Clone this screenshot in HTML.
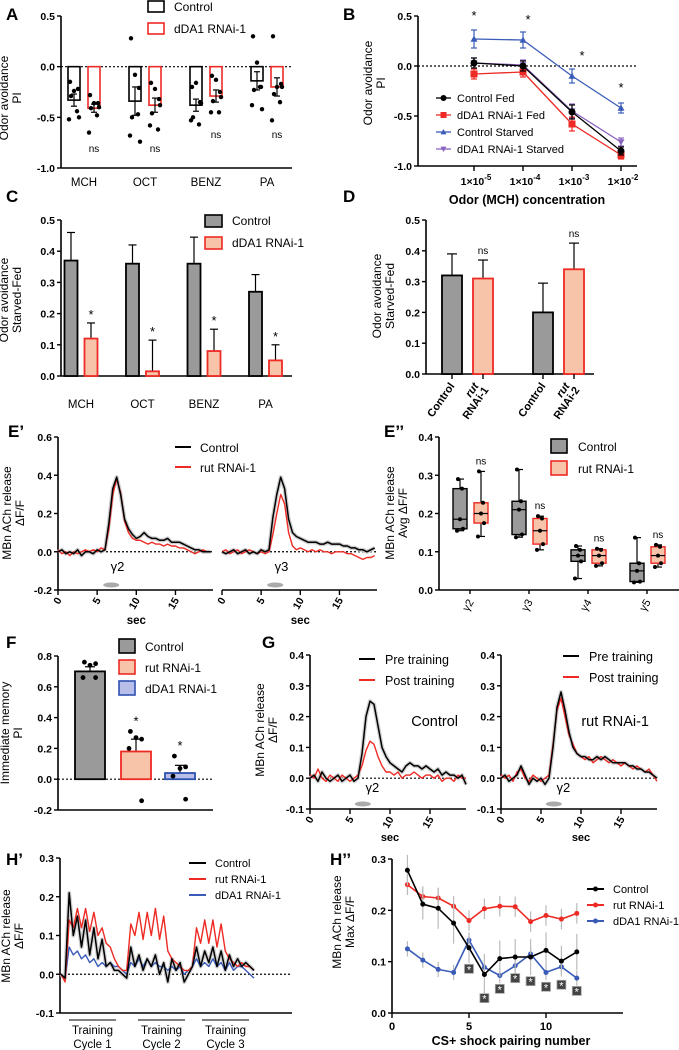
<!DOCTYPE html>
<html><head><meta charset="utf-8">
<style>
html,body{margin:0;padding:0;background:#fff;}
svg{display:block;font-family:"Liberation Sans",Arial,sans-serif;}
</style></head>
<body>
<svg id="fig" width="679" height="1050" viewBox="0 0 679 1050" xmlns="http://www.w3.org/2000/svg"></svg>
<script>
// ---------- DATA ----------
const catsA = ["MCH","OCT","BENZ","PA"];
const aCtrlMean = [-0.33,-0.34,-0.38,-0.14];
const aRnaiMean = [-0.41,-0.38,-0.29,-0.20];
const aCtrlErr = [0.06,0.14,0.06,0.09];
const aRnaiErr = [0.04,0.07,0.06,0.09];
const aCtrlDots = [[-0.15,-0.24,-0.22,-0.29,-0.44,-0.52,-0.50],[0.28,-0.08,-0.21,-0.50,-0.47,-0.68,-0.74],[-0.20,-0.16,-0.35,-0.50,-0.57,-0.53,-0.36],[0.30,0.04,-0.20,-0.23,-0.20,-0.38,-0.42]];
const aRnaiDots = [[-0.28,-0.36,-0.36,-0.41,-0.48,-0.65,-0.40],[-0.16,-0.22,-0.32,-0.46,-0.62,-0.58,-0.38],[-0.09,-0.13,-0.25,-0.34,-0.45,-0.45,-0.30],[0.30,-0.20,-0.17,-0.27,-0.35,-0.53,-0.20]];

const bConc = [-5,-4,-3,-2];
const bCtrlFed = [0.03,0.00,-0.46,-0.85];
const bRnaiFed = [-0.08,-0.06,-0.58,-0.89];
const bCtrlStarved = [0.27,0.26,-0.10,-0.42];
const bRnaiStarved = [0.03,0.01,-0.45,-0.76];
const bErr = [0.05,0.05,0.07,0.04];
const bStarvedErr = [0.09,0.08,0.07,0.05];

const cCtrl = [0.37,0.36,0.36,0.27];
const cCtrlErr = [0.09,0.06,0.085,0.055];
const cRnai = [0.12,0.015,0.08,0.05];
const cRnaiErr = [0.05,0.10,0.07,0.05];

const dLabels = ["Control","rut RNAi-1","Control","rut RNAi-2"];
const dVals = [0.32,0.31,0.20,0.34];
const dErr = [0.07,0.06,0.095,0.085];

const eTime = [0,0.5,1,1.5,2,2.5,3,3.5,4,4.5,5,5.5,6,6.5,7,7.5,8,8.5,9,9.5,10,10.5,11,11.5,12,12.5,13,13.5,14,14.5,15,15.5,16,16.5,17,17.5,18,18.5,19,19.5];
const eG2Ctrl = [0,0.01,-0.01,0,-0.01,0.01,-0.02,0,0,-0.01,0.01,0,0.01,0.15,0.33,0.39,0.30,0.17,0.12,0.09,0.07,0.08,0.10,0.08,0.07,0.07,0.06,0.06,0.07,0.05,0.05,0.05,0.04,0.03,0.02,0.01,0.01,0,0,0];
const eG2Rut = [0.01,-0.01,0,-0.02,0,-0.01,0,0.01,0,0.01,0,0.02,0.01,0.12,0.30,0.38,0.31,0.16,0.10,0.07,0.06,0.06,0.05,0.04,0.05,0.04,0.04,0.03,0.04,0.03,0.03,0.02,0.02,0.01,0,-0.01,0,0.01,0,0];
const eG3Ctrl = [0,-0.01,0,0.01,-0.01,0,0.01,-0.01,0,-0.01,0.01,0,0.01,0.18,0.30,0.39,0.33,0.17,0.10,0.08,0.07,0.06,0.05,0.05,0.05,0.04,0.04,0.05,0.04,0.04,0.04,0.03,0.03,0.02,0.02,0.01,0.01,0,0.01,0.02];
const eG3Rut = [0,0.01,-0.01,0,0.01,-0.01,0,0.01,0,-0.01,0,-0.01,0,0.09,0.20,0.30,0.25,0.10,0.03,0.01,0.02,0.01,0,0.01,0,0.01,0,0,-0.01,0,0,0,-0.01,-0.01,-0.02,-0.03,-0.04,-0.03,-0.03,-0.02];

const e2Cats = ["γ2","γ3","γ4","γ5"];
const e2Ctrl = [[0.155,0.16,0.185,0.265,0.29],[0.138,0.145,0.21,0.232,0.315],[0.03,0.075,0.09,0.105,0.115],[0.02,0.022,0.05,0.07,0.137]];
const e2Rut = [[0.14,0.175,0.20,0.228,0.31],[0.105,0.12,0.155,0.187,0.193],[0.063,0.07,0.09,0.105,0.108],[0.06,0.07,0.09,0.113,0.118]];

const fLabels = ["Control","rut RNAi-1","dDA1 RNAi-1"];
const fVals = [0.70,0.18,0.04];
const fErr = [0.03,0.08,0.05];
const fDots = [[0.76,0.75,0.74,0.66,0.66],[0.31,0.26,0.27,0.20,-0.14],[0.15,0.08,0.07,0.02,-0.13]];

const gCtrlPre = [0,0.01,-0.01,0.02,0,-0.01,0,0.01,-0.01,0,0.01,-0.01,0,0.08,0.20,0.25,0.24,0.17,0.10,0.07,0.05,0.04,0.03,0.02,0.04,0.05,0.04,0.04,0.03,0.04,0.03,0.02,0.03,0.01,0.02,0.01,0.01,0,0.01,-0.02];
const gCtrlPost = [0.01,0,0.03,0,-0.01,0.01,0,-0.01,0.01,0,-0.01,0,0.01,0.04,0.09,0.12,0.11,0.07,0.04,0.02,0.02,0.01,0.02,0,0.01,0.01,0.02,0.01,0,0.01,0.01,0,0.01,-0.01,0,0,-0.01,0.01,0,0];
const gRutPre = [0,0.01,-0.01,0,0.01,0.04,0.01,-0.02,0,-0.01,0,-0.02,0,0.10,0.23,0.28,0.22,0.15,0.10,0.08,0.07,0.07,0.06,0.06,0.07,0.06,0.07,0.06,0.05,0.05,0.05,0.05,0.04,0.04,0.03,0.03,0.02,0.02,0.01,0];
const gRutPost = [0.01,0,0.01,-0.01,0.02,0.03,0,-0.01,0.01,0,-0.01,0,0.01,0.11,0.22,0.26,0.20,0.14,0.11,0.08,0.07,0.06,0.07,0.05,0.06,0.07,0.06,0.05,0.06,0.05,0.04,0.05,0.04,0.03,0.04,0.03,0.02,0.03,0.01,-0.01];

const hCtrl = [0,-0.01,0.21,0.10,0.15,0.07,0.14,0.05,0.12,0.04,0.09,0.02,0.03,0.01,0.01,0.0,-0.01,0.07,0.02,0.05,0.01,0.04,0.02,0.05,0.0,0.03,-0.02,0.04,0.01,0.03,-0.02,0.0,0.02,0.07,0.02,0.06,0.03,0.07,0.02,0.06,0.01,0.05,0.02,0.04,0.02,0.03,0.02,0.01];
const hRut = [0,-0.02,0.14,0.12,0.17,0.12,0.17,0.11,0.16,0.10,0.12,0.08,0.07,0.04,0.02,0.01,0.01,0.13,0.10,0.16,0.09,0.16,0.10,0.17,0.09,0.15,0.06,0.04,0.03,0.02,0.01,0.01,0.02,0.12,0.08,0.14,0.08,0.14,0.07,0.13,0.06,0.04,0.03,0.02,0.03,0.02,0.02,0.01];
const hDda = [0,-0.01,0.07,0.05,0.06,0.04,0.05,0.03,0.04,0.02,0.03,0.02,0.03,0.02,0.02,0.01,0,0.03,0.02,0.04,0.02,0.04,0.02,0.03,0.02,0.02,0.01,0.02,0.01,0.02,0.0,0.01,0.02,0.04,0.02,0.03,0.02,0.04,0.02,0.03,0.01,0.03,0.01,0.02,0.02,0.01,0.0,-0.01];

const h2Pair = [1,2,3,4,5,6,7,8,9,10,11,12];
const h2Ctrl = [0.278,0.212,0.204,0.175,0.127,0.075,0.106,0.109,0.109,0.122,0.101,0.119];
const h2Rut = [0.25,0.227,0.224,0.208,0.18,0.203,0.208,0.207,0.178,0.19,0.183,0.194];
const h2Dda = [0.125,0.103,0.085,0.079,0.142,0.089,0.073,0.092,0.115,0.079,0.09,0.068];
const h2CtrlErr = [0.03,0.03,0.04,0.04,0.03,0.04,0.035,0.035,0.035,0.035,0.03,0.035];
const h2SigPair = [5,6,7,8,9,10,11,12];
const h2SigVal = [0.086,0.029,0.047,0.068,0.062,0.051,0.055,0.043];

// ---------- HELPERS ----------
const NS = "http://www.w3.org/2000/svg";
const S = document.getElementById('fig');
function mk(tag, name, attrs){
  const e = document.createElementNS(NS, tag);
  for (const k in attrs) e.setAttribute(k, attrs[k]);
  
  
  S.appendChild(e);
  return e;
}
function lin(d0,d1,r0,r1){return v => r0 + (v-d0)/(d1-d0)*(r1-r0);}
function line(name,x1,y1,x2,y2,stroke,w,dash){
  const a={x1:x1,y1:y1,x2:x2,y2:y2,stroke:stroke||'#000','stroke-width':w||1.5};
  if(dash) a['stroke-dasharray']=dash;
  return mk('line',name,a);
}
function txt(name,x,y,s,size,opt){
  opt=opt||{};
  const a={x:x,y:y,'font-size':size,'text-anchor':opt.anchor||'start','font-weight':opt.bold?'bold':'normal',fill:opt.fill||'#000'};
  if(opt.rot!==undefined) a.transform='rotate('+opt.rot+' '+x+' '+y+')';
  if(opt.italic) a['font-style']='italic';
  const e=mk('text',name,a); e.textContent=s; return e;
}
function yAxis(name,x,sy,ticks,fmt,top,bot){
  line(name+'-line',x,top,x,bot,'#000',1.6);
  ticks.forEach(t=>{
    line(name+'-tick',x-4,sy(t),x,sy(t),'#000',1.4);
    txt(name+'-label',x-6,sy(t)+4,fmt(t),10.5,{anchor:'end',bold:true});
  });
}
function ytitle(name,x,y,lines,size){
  lines.forEach((s,i)=>txt(name,x+i*13,y,s,size||12,{anchor:'middle',rot:-90}));
}
function path(name,pts,stroke,w,fill){
  const d=pts.map((p,i)=>(i?'L':'M')+p[0].toFixed(1)+' '+p[1].toFixed(1)).join(' ');
  return mk('path',name,{d:d,stroke:stroke,'stroke-width':w||1.5,fill:fill||'none','stroke-linejoin':'round'});
}
function errbar(name,x,y1,y2,cap,stroke,w){
  line(name,x,y1,x,y2,stroke||'#000',w||1.2);
  line(name+'-cap',x-cap,y2,x+cap,y2,stroke||'#000',w||1.2);
}
const fmt1 = v => v.toFixed(1);
const RED='#ee2a24', BLUE='#3a5cb8', PURPLE='#8b63c0', GRAY='#9a9a9a', SALMON='#f7c4aa', LBLUE='#b7bfe8';

// ---------- PANEL A ----------
txt('panel-a-label',6,20,'A',17,{bold:true});
const yA = lin(-1,0.5,168,16);
yAxis('a-y-axis',61,yA,[0.5,0,-0.5,-1],fmt1,16,168);
line('a-x-axis',61,168,292,168,'#000',1.6);
line('a-zero-line',61,yA(0),292,yA(0),'#000',1.2,'2,2');
ytitle('a-y-title',8,98,['Odor avoidance','PI']);
const jit=[-4,0,4,-3,3,-5,5];
catsA.forEach((c,i)=>{
  const xc=74+i*61, xr=xc+20;
  mk('rect','a-bar-control-'+c,{x:xc-6,y:yA(0),width:12,height:yA(aCtrlMean[i])-yA(0),fill:'#fff',stroke:'#000','stroke-width':1.6});
  mk('rect','a-bar-rnai-'+c,{x:xr-6,y:yA(0),width:12,height:yA(aRnaiMean[i])-yA(0),fill:'#fff',stroke:RED,'stroke-width':1.6});
  errbar('a-err-control',xc,yA(aCtrlMean[i]-aCtrlErr[i]),yA(aCtrlMean[i]+aCtrlErr[i]),3);
  line('a-err-control-cap2',xc-3,yA(aCtrlMean[i]-aCtrlErr[i]),xc+3,yA(aCtrlMean[i]-aCtrlErr[i]),'#000',1.2);
  errbar('a-err-rnai',xr,yA(aRnaiMean[i]-aRnaiErr[i]),yA(aRnaiMean[i]+aRnaiErr[i]),3);
  line('a-err-rnai-cap2',xr-3,yA(aRnaiMean[i]-aRnaiErr[i]),xr+3,yA(aRnaiMean[i]-aRnaiErr[i]),'#000',1.2);
  aCtrlDots[i].forEach((v,j)=>mk('circle','a-dot-control',{cx:xc+jit[j],cy:yA(v),r:2.2,fill:'#000'}));
  aRnaiDots[i].forEach((v,j)=>mk('circle','a-dot-rnai',{cx:xr+jit[j],cy:yA(v),r:2.2,fill:'#000'}));
  txt('a-ns-label',xr,i<2?152:138,'ns',10,{anchor:'middle'});
  txt('a-x-label',xc+10,186,c,11.5,{anchor:'middle'});
});
mk('rect','a-legend-control-swatch',{x:148,y:1,width:16,height:11,fill:'#fff',stroke:'#000','stroke-width':1.6});
txt('a-legend-control',174,11,'Control',12);
mk('rect','a-legend-rnai-swatch',{x:148,y:23,width:16,height:11,fill:'#fff',stroke:RED,'stroke-width':1.6});
txt('a-legend-rnai',174,33,'dDA1 RNAi-1',12);

// ---------- PANEL B ----------
txt('panel-b-label',343,20,'B',17,{bold:true});
const yB = lin(-1,0.5,166,16);
const xB = lin(-5,-2,474,621);
yAxis('b-y-axis',418,yB,[0.5,0,-0.5,-1],fmt1,16,166);
line('b-x-axis',418,166,637,166,'#000',1.6);
line('b-zero-line',418,yB(0),637,yB(0),'#000',1.2,'2,2');
ytitle('b-y-title',372,83,['Odor avoidance','PI']);
bConc.forEach(c=>{
  line('b-x-tick',xB(c),166,xB(c),171,'#000',1.4);
  const t=txt('b-x-tick-label',xB(c)+2,185,'1×10',10.5,{anchor:'middle',bold:true});
  const sp=document.createElementNS(NS,'tspan'); sp.setAttribute('dy','-5'); sp.setAttribute('font-size','8'); sp.textContent=String(c); t.appendChild(sp);
});
txt('b-x-title',527,204,'Odor (MCH) concentration',12.5,{anchor:'middle',bold:true});
function bSeries(name,vals,err,color,marker){
  path('b-line-'+name,vals.map((v,i)=>[xB(bConc[i]),yB(v)]),color,1.3);
  vals.forEach((v,i)=>{
    const x=xB(bConc[i]),y=yB(v);
    line('b-err-'+name,x,yB(v-err[i]),x,yB(v+err[i]),color,1.2);
    line('b-err-'+name+'-cap',x-3,yB(v+err[i]),x+3,yB(v+err[i]),color,1.2);
    line('b-err-'+name+'-cap2',x-3,yB(v-err[i]),x+3,yB(v-err[i]),color,1.2);
    bMarker('b-point-'+name,x,y,color,marker,3.5);
  });
}
function bMarker(name,x,y,color,m,r){
  if(m==='c') mk('circle',name,{cx:x,cy:y,r:r,fill:color});
  else if(m==='s') mk('rect',name,{x:x-r,y:y-r,width:2*r,height:2*r,fill:color});
  else if(m==='u') mk('polygon',name,{points:`${x},${y-r} ${x-r},${y+r*0.8} ${x+r},${y+r*0.8}`,fill:color});
  else mk('polygon',name,{points:`${x},${y+r} ${x-r},${y-r*0.8} ${x+r},${y-r*0.8}`,fill:color});
}
bSeries('rnai-starved',bRnaiStarved,bErr,PURPLE,'d');
bSeries('control-starved',bCtrlStarved,bStarvedErr,BLUE,'u');
bSeries('rnai-fed',bRnaiFed,bErr,RED,'s');
bSeries('control-fed',bCtrlFed,bErr,'#000','c');
[[474,20],[528,24],[582,60],[621,92]].forEach(p=>txt('b-star',p[0],p[1],'*',13,{anchor:'middle'}));
[['Control Fed','#000','c'],['dDA1 RNAi-1 Fed',RED,'s'],['Control Starved',BLUE,'u'],['dDA1 RNAi-1 Starved',PURPLE,'d']].forEach((l,i)=>{
  const y=98+i*17;
  line('b-legend-line',436,y,451,y,l[1],1.3);
  bMarker('b-legend-marker',443.5,y,l[1],l[2],3);
  txt('b-legend-text',457,y+4,l[0],11);
});

// ---------- PANEL C ----------
txt('panel-c-label',6,202,'C',17,{bold:true});
const yC = lin(0,0.5,376,220);
yAxis('c-y-axis',61,yC,[0,0.1,0.2,0.3,0.4,0.5],fmt1,220,376);
line('c-x-axis',61,376,292,376,'#000',1.6);
ytitle('c-y-title',8,300,['Odor avoidance','Starved-Fed']);
catsA.forEach((c,i)=>{
  const xc=71+i*61.5, xr=xc+20;
  errbar('c-err-control',xc,yC(cCtrl[i]),yC(cCtrl[i]+cCtrlErr[i]),4);
  mk('rect','c-bar-control-'+c,{x:xc-6.5,y:yC(cCtrl[i]),width:13,height:376-yC(cCtrl[i]),fill:GRAY,stroke:'#000','stroke-width':1.8});
  errbar('c-err-rnai',xr,yC(cRnai[i]),yC(cRnai[i]+cRnaiErr[i]),4);
  mk('rect','c-bar-rnai-'+c,{x:xr-6.5,y:yC(cRnai[i]),width:13,height:376-yC(cRnai[i]),fill:SALMON,stroke:RED,'stroke-width':1.8});
  txt('c-star',xr,yC(cRnai[i]+cRnaiErr[i])-4,'*',13,{anchor:'middle'});
  txt('c-x-label',xc+10,408,c,11.5,{anchor:'middle'});
});
mk('rect','c-legend-control-swatch',{x:205,y:215,width:17,height:12,fill:GRAY,stroke:'#000','stroke-width':1.6});
txt('c-legend-control',232,225,'Control',12);
mk('rect','c-legend-rnai-swatch',{x:205,y:237,width:17,height:12,fill:SALMON,stroke:RED,'stroke-width':1.6});
txt('c-legend-rnai',232,247,'dDA1 RNAi-1',12);

// ---------- PANEL D ----------
txt('panel-d-label',343,202,'D',17,{bold:true});
const yD = lin(0,0.5,374,220);
yAxis('d-y-axis',426,yD,[0,0.1,0.2,0.3,0.4,0.5],fmt1,220,374);
line('d-x-axis',426,374,594,374,'#000',1.6);
ytitle('d-y-title',381,296,['Odor avoidance','Starved-Fed']);
const dX=[452,483,543,574];
dVals.forEach((v,i)=>{
  const rn=i%2===1;
  errbar('d-err',dX[i],yD(v),yD(v+dErr[i]),5);
  mk('rect','d-bar-'+dLabels[i].replace(/ /g,'-').toLowerCase(),{x:dX[i]-10,y:yD(v),width:20,height:374-yD(v),fill:rn?SALMON:GRAY,stroke:rn?RED:'#000','stroke-width':1.8});
  line('d-x-tick',dX[i],374,dX[i],379,'#000',1.4);
  if(rn){
    txt('d-ns-label',dX[i],yD(v+dErr[i])-6,'ns',10,{anchor:'middle'});
    const p=dLabels[i].split(' ');
    txt('d-x-label',dX[i]-4,386,p[0],11,{anchor:'end',bold:true,italic:true,rot:-55});
    txt('d-x-label',dX[i]+6,390,p[1],11,{anchor:'end',bold:true,rot:-55});
  } else {
    txt('d-x-label',dX[i]+3,386,dLabels[i],11,{anchor:'end',bold:true,rot:-55});
  }
});

// ---------- PANEL E' ----------
txt('panel-e1-label',8,437,'E’',17,{bold:true});
const yE = lin(-0.2,0.6,590,437);
yAxis('e1-y-axis',58,yE,[0.6,0.4,0.2,0,-0.2],fmt1,437,590);
ytitle('e1-y-title',11,513,['MBn ACh release','ΔF/F']);
[[58,'γ2'],[222,'γ3']].forEach((sp,k)=>{
  const x0=sp[0], xs=lin(0,20,x0,x0+156.6);
  line('e1-x-axis',x0,590,x0+155,590,'#000',1.6);
  [0,5,10,15].forEach(t=>{
    line('e1-x-tick',xs(t),590,xs(t),595,'#000',1.4);
    txt('e1-x-tick-label',xs(t)+4,600,String(t),10.5,{anchor:'end',bold:true,rot:-60});
  });
  txt('e1-x-title',xs(10),624,'sec',11.5,{anchor:'middle',bold:true});
  line('e1-zero-line',x0,yE(0),x0+155,yE(0),'#000',1.2,'2,2');
  mk('ellipse','e1-odor-marker',{cx:xs(6.8),cy:585,rx:8,ry:2.5,fill:'#aaa'});
  txt('e1-compartment-label',xs(7.6),571,sp[1],13,{anchor:'middle'});
  const ctrl=k?eG3Ctrl:eG2Ctrl, rut=k?eG3Rut:eG2Rut;
  path('e1-trace-control-band',ctrl.map((v,i)=>[xs(eTime[i]),yE(v)]),'#ccc',4);
  path('e1-trace-rut',rut.map((v,i)=>[xs(eTime[i]),yE(v)]),RED,1.4);
  path('e1-trace-control',ctrl.map((v,i)=>[xs(eTime[i]),yE(v)]),'#000',1.5);
});
line('e1-legend-control-line',175,447,191,447,'#000',2);
txt('e1-legend-control',200,452,'Control',12);
line('e1-legend-rut-line',175,467,191,467,RED,2);
txt('e1-legend-rut',200,472,'rut RNAi-1',12);

// ---------- PANEL E'' ----------
txt('panel-e2-label',384,437,'E’’',17,{bold:true});
const yE2 = lin(0,0.4,590,437);
yAxis('e2-y-axis',439,yE2,[0,0.1,0.2,0.3,0.4],fmt1,437,590);
line('e2-x-axis',439,590,679,590,'#000',1.6);
ytitle('e2-y-title',394,513,['MBn ACh release','Avg  ΔF/F']);
function box(name,x,q,fill,stroke){
  line(name+'-whisker',x,yE2(q[0]),x,yE2(q[4]),'#000',1.2);
  line(name+'-cap-lo',x-4,yE2(q[0]),x+4,yE2(q[0]),'#000',1.2);
  line(name+'-cap-hi',x-4,yE2(q[4]),x+4,yE2(q[4]),'#000',1.2);
  mk('rect',name,{x:x-7,y:yE2(q[3]),width:14,height:yE2(q[1])-yE2(q[3]),fill:fill,stroke:stroke,'stroke-width':1.4});
  line(name+'-median',x-7,yE2(q[2]),x+7,yE2(q[2]),'#000',1.2);
  [q[0],q[1],q[2],q[3],q[4]].forEach((v,j)=>mk('circle',name+'-dot',{cx:x+[-3,3,0,2,-2][j],cy:yE2(v),r:2,fill:'#000'}));
}
e2Cats.forEach((c,i)=>{
  const xc=460+i*59, xr=xc+21;
  box('e2-box-control-'+i,xc,e2Ctrl[i],GRAY,'#000');
  box('e2-box-rut-'+i,xr,e2Rut[i],SALMON,RED);
  txt('e2-ns-label',xr,yE2(e2Rut[i][4])-7,'ns',10,{anchor:'middle'});
  line('e2-x-tick',xc+10,590,xc+10,594,'#000',1.4);
  txt('e2-x-label',xc+14,602,c,11,{anchor:'end',rot:-60});
});
mk('rect','e2-legend-control-swatch',{x:551,y:439,width:16,height:14,fill:GRAY,stroke:'#000','stroke-width':1.6});
txt('e2-legend-control',578,451,'Control',12);
mk('rect','e2-legend-rut-swatch',{x:551,y:461,width:16,height:14,fill:SALMON,stroke:RED,'stroke-width':1.6});
txt('e2-legend-rut',578,473,'rut RNAi-1',12);

// ---------- PANEL F ----------
txt('panel-f-label',6,648,'F',17,{bold:true});
const yF = lin(-0.2,0.8,810,656);
yAxis('f-y-axis',58,yF,[0.8,0.6,0.4,0.2,0,-0.2],fmt1,656,810);
line('f-x-axis',58,810,213,810,'#000',1.6);
line('f-zero-line',58,yF(0),213,yF(0),'#000',1.2,'2,2');
ytitle('f-y-title',9,733,['Immediate memory','PI']);
const fX=[90,136,180], fFill=[GRAY,SALMON,LBLUE], fStroke=['#000',RED,'#2f4fb0'];
fVals.forEach((v,i)=>{
  errbar('f-err',fX[i],yF(v),yF(v+fErr[i]),5);
  mk('rect','f-bar-'+fLabels[i].replace(/ /g,'-').toLowerCase(),{x:fX[i]-15,y:yF(v),width:30,height:yF(0)-yF(v),fill:fFill[i],stroke:fStroke[i],'stroke-width':1.8});
  fDots[i].forEach((d,j)=>mk('circle','f-dot',{cx:fX[i]+[-4,4,0,-5,4][j]*1.4,cy:yF(d),r:2.4,fill:'#000'}));
  if(i>0) txt('f-star',fX[i],yF(Math.max(...fDots[i]))-6,'*',13,{anchor:'middle'});
});
fLabels.forEach((l,i)=>{
  mk('rect','f-legend-swatch',{x:119,y:639+i*21,width:16,height:14,fill:fFill[i],stroke:fStroke[i],'stroke-width':1.6});
  txt('f-legend-text',145,651+i*21,l,12);
});

// ---------- PANEL G ----------
txt('panel-g-label',262,648,'G',17,{bold:true});
const yG = lin(-0.1,0.4,809,655);
ytitle('g-y-title',264,730,['MBn ACh release','ΔF/F']);
[[310,gCtrlPre,gCtrlPost,'Control',359],[501,gRutPre,gRutPost,'rut RNAi-1',563]].forEach((sp,k)=>{
  const x0=sp[0], xs=lin(0,20,x0,x0+160);
  yAxis('g-y-axis-'+k,x0,yG,[0.4,0.3,0.2,0.1,0,-0.1],fmt1,655,809);
  line('g-x-axis',x0,809,x0+156,809,'#000',1.6);
  [0,5,10,15].forEach(t=>{
    line('g-x-tick',xs(t),809,xs(t),814,'#000',1.4);
    txt('g-x-tick-label',xs(t)+4,819,String(t),10.5,{anchor:'end',bold:true,rot:-60});
  });
  txt('g-x-title',xs(10),841,'sec',11,{anchor:'middle',bold:true});
  line('g-zero-line',x0,yG(0),x0+156,yG(0),'#000',1.2,'2,2');
  mk('ellipse','g-odor-marker',{cx:xs(6.6),cy:804,rx:8,ry:2.5,fill:'#aaa'});
  txt('g-compartment-label',xs(7.8),792,'γ2',13,{anchor:'middle'});
  path('g-trace-pre-band',sp[1].map((v,i)=>[xs(eTime[i]),yG(v)]),'#d0d0d0',4);
  path('g-trace-post',sp[2].map((v,i)=>[xs(eTime[i]),yG(v)]),RED,1.4);
  path('g-trace-pre',sp[1].map((v,i)=>[xs(eTime[i]),yG(v)]),'#000',1.5);
  txt('g-genotype-label',x0+(k?148:148),726,sp[3],14.5,{anchor:'end'});
  const lx=sp[4], ly=k?656:659;
  line('g-legend-pre-line',lx,ly,lx+16,ly,'#000',2);
  txt('g-legend-pre',lx+26,ly+5,'Pre training',12.5);
  line('g-legend-post-line',lx,ly+21,lx+16,ly+21,RED,2);
  txt('g-legend-post',lx+26,ly+26,'Post training',12.5);
});

// ---------- PANEL H' ----------
txt('panel-h1-label',6,865,'H’',17,{bold:true});
const yH = lin(-0.1,0.3,1013,858);
const xH = lin(0,47,61,254);
yAxis('h1-y-axis',60,yH,[0.3,0.2,0.1,0,-0.1],fmt1,858,1013);
line('h1-x-axis',60,1013,292,1013,'#000',1.6);
line('h1-zero-line',60,yH(0),292,yH(0),'#000',1.2,'2,2');
ytitle('h1-y-title',10,936,['MBn ACh release','ΔF/F']);
path('h1-trace-control-band',hCtrl.map((v,i)=>[xH(i),yH(v)]),'#d0d0d0',4);
path('h1-trace-dda1',hDda.map((v,i)=>[xH(i),yH(v)]),BLUE,1.4);
path('h1-trace-rut',hRut.map((v,i)=>[xH(i),yH(v)]),RED,1.4);
path('h1-trace-control',hCtrl.map((v,i)=>[xH(i),yH(v)]),'#000',1.5);
[[69,116,'1'],[138,185,'2'],[202,249,'3']].forEach(c=>{
  line('h1-training-bar',c[0],1020,c[1],1020,'#000',1);
  txt('h1-training-label',(c[0]+c[1])/2,1034,'Training',11.5,{anchor:'middle'});
  txt('h1-cycle-label',(c[0]+c[1])/2,1048,'Cycle '+c[2],11.5,{anchor:'middle'});
});
[['Control','#000'],['rut RNAi-1',RED],['dDA1 RNAi-1',BLUE]].forEach((l,i)=>{
  line('h1-legend-line',189,863+i*16,206,863+i*16,l[1],2);
  txt('h1-legend-text',215,867+i*16,l[0],11);
});

// ---------- PANEL H'' ----------
txt('panel-h2-label',330,865,'H’’',17,{bold:true});
const yH2 = lin(0,0.3,1013,859);
const xH2 = lin(0,15,392,623);
yAxis('h2-y-axis',392,yH2,[0,0.1,0.2,0.3],fmt1,859,1013);
line('h2-x-axis',392,1013,623,1013,'#000',1.6);
[0,5,10].forEach(t=>{
  line('h2-x-tick',xH2(t),1013,xH2(t),1018,'#000',1.4);
  txt('h2-x-tick-label',xH2(t),1030,String(t),11,{anchor:'middle',bold:true});
});
txt('h2-x-title',511,1045,'CS+ shock pairing number',12.5,{anchor:'middle',bold:true});
ytitle('h2-y-title',341,922,['MBn ACh release','Max  ΔF/F']);
function h2Series(name,vals,err,color){
  vals.forEach((v,i)=>line('h2-err-'+name,xH2(h2Pair[i]),yH2(v-err[i]),xH2(h2Pair[i]),yH2(v+err[i]),'#bbb',1.2));
  path('h2-line-'+name,vals.map((v,i)=>[xH2(h2Pair[i]),yH2(v)]),color,1.6);
  vals.forEach((v,i)=>mk('circle','h2-point-'+name,{cx:xH2(h2Pair[i]),cy:yH2(v),r:2.5,fill:color}));
}
h2Series('rut',h2Rut,h2Pair.map(()=>0.02),RED);
h2Series('dda1',h2Dda,h2Pair.map(()=>0.015),BLUE);
h2Series('control',h2Ctrl,h2CtrlErr,'#000');
h2SigPair.forEach((p,i)=>{
  const x=xH2(p), y=yH2(h2SigVal[i]);
  mk('rect','h2-sig-box',{x:x-4.5,y:y-4.5,width:9,height:9,fill:'#444',stroke:'#aaa','stroke-width':0.8});
  txt('h2-sig-star',x,y+4.5,'*',11,{anchor:'middle',fill:'#fff'});
});
[['Control','#000'],['rut RNAi-1',RED],['dDA1 RNAi-1',BLUE]].forEach((l,i)=>{
  const y=889+i*16;
  line('h2-legend-line',587,y,604,y,l[1],2);
  mk('circle','h2-legend-marker',{cx:595.5,cy:y,r:2.5,fill:l[1]});
  txt('h2-legend-text',613,y+4,l[0],11);
});
</script>
</body></html>
